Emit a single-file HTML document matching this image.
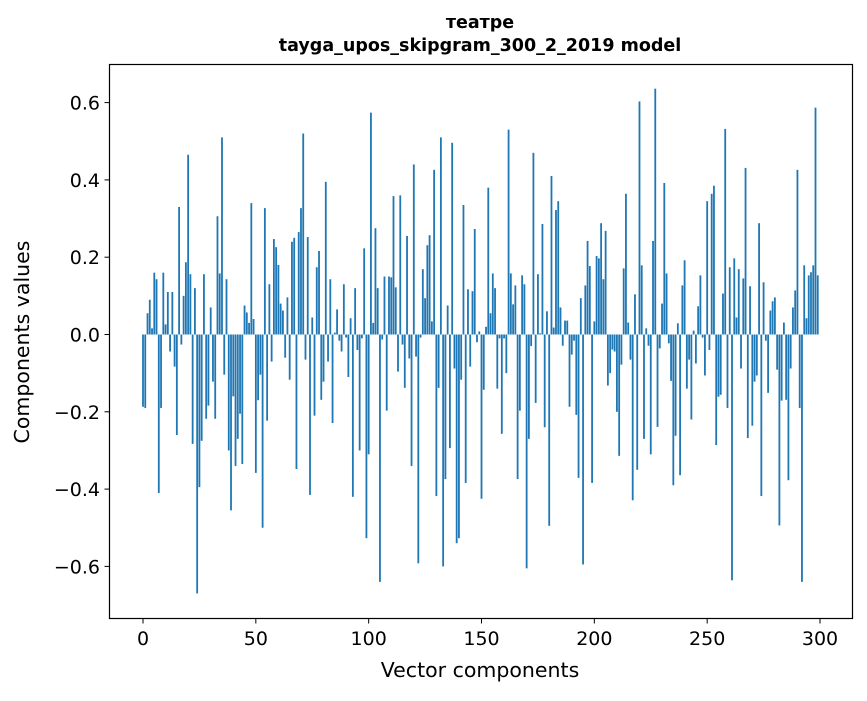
<!DOCTYPE html>
<html><head><meta charset="utf-8"><style>
body{margin:0;background:#fff;}
svg text{font-family:"DejaVu Sans","Liberation Sans",sans-serif;fill:#000;}
</style></head><body>
<svg id="chart" width="867" height="696" xmlns="http://www.w3.org/2000/svg">
<rect x="0" y="0" width="867" height="696" fill="#fff"/>
<text x="480" y="28" font-size="17.5" font-weight="bold" text-anchor="middle">театре</text>
<text x="480" y="51" font-size="17.5" font-weight="bold" text-anchor="middle">tayga_upos_skipgram_300_2_2019 model</text>
<g id="bars"></g>
<g id="axes"></g>
<rect x="109.5" y="64.5" width="743" height="554" fill="none" stroke="#000" stroke-width="1.2"/>
<text x="480" y="677" font-size="20.5" text-anchor="middle">Vector components</text>
<text transform="translate(29,342) rotate(-90)" font-size="20.5" text-anchor="middle">Components values</text>
</svg>
<script>
const values = [
-0.187,-0.19,0.055,0.09,0.016,0.16,0.143,-0.41,-0.19,0.16,
0.026,0.11,-0.044,0.11,-0.083,-0.26,0.33,-0.026,0.1,0.187,
0.465,0.156,-0.283,0.12,-0.67,-0.395,-0.275,0.156,-0.218,-0.184,
0.07,-0.122,-0.218,0.306,0.158,0.51,-0.104,0.143,-0.3,-0.455,
-0.16,-0.34,-0.27,-0.205,-0.335,0.075,0.057,0.03,0.34,0.04,
-0.358,-0.17,-0.104,-0.5,0.327,-0.223,0.13,-0.07,0.247,0.226,
0.18,0.08,0.062,-0.06,0.096,-0.117,0.24,0.25,-0.348,0.265,
0.327,0.52,-0.065,0.252,-0.415,0.044,-0.21,0.174,0.216,-0.169,
-0.122,0.395,-0.07,0.143,-0.229,0.005,0.065,-0.016,-0.044,0.13,
-0.008,-0.11,0.042,-0.42,0.12,-0.04,-0.3,-0.01,0.223,-0.527,
-0.31,0.574,0.03,0.275,0.12,-0.64,-0.013,0.15,-0.197,0.15,
0.148,0.358,0.122,-0.096,0.36,-0.026,-0.138,0.255,-0.062,-0.34,
0.44,-0.057,-0.592,-0.008,0.169,0.094,0.231,0.257,0.034,0.426,
-0.418,-0.138,0.51,-0.6,-0.374,0.075,-0.294,0.496,-0.088,-0.54,
-0.527,-0.117,0.335,-0.384,0.117,-0.083,0.112,0.273,-0.02,0.008,
-0.425,-0.143,0.02,0.38,0.055,0.158,0.12,-0.14,-0.01,-0.257,
-0.01,-0.1,0.53,0.158,0.078,0.127,-0.374,-0.197,0.153,0.13,
-0.605,-0.27,-0.03,0.47,-0.177,0.156,0.003,0.286,-0.24,0.06,
-0.495,0.41,0.018,0.322,0.345,0.07,-0.029,0.036,0.036,-0.187,
-0.052,-0.016,-0.208,-0.371,0.094,-0.595,0.127,0.242,0.177,-0.384,
0.034,0.203,0.197,0.288,0.143,0.268,-0.132,-0.1,-0.039,-0.044,
-0.2,-0.314,-0.078,0.171,0.364,0.031,-0.065,-0.429,0.104,-0.35,
0.603,0.179,-0.27,0.016,-0.029,-0.31,0.242,0.636,-0.239,-0.036,
0.08,0.392,0.158,-0.023,-0.12,-0.39,-0.262,0.029,-0.364,0.127,
0.192,-0.14,-0.065,-0.22,0.01,-0.075,0.073,0.153,-0.008,-0.106,
0.345,-0.04,0.364,0.385,-0.286,-0.161,-0.156,0.106,0.532,-0.19,
0.174,-0.636,0.197,0.044,0.169,-0.088,0.145,0.431,-0.268,0.125,
-0.236,-0.122,-0.106,0.288,-0.418,0.135,-0.016,-0.151,0.062,0.086,
0.096,-0.091,-0.494,-0.171,0.031,-0.169,-0.377,-0.088,0.07,0.114,
0.426,-0.19,-0.64,0.179,0.042,0.153,0.161,0.179,0.587,0.153
];
const xTicks = [0,50,100,150,200,250,300];
const yTicks = [-0.6,-0.4,-0.2,0.0,0.2,0.4,0.6];

const NS="http://www.w3.org/2000/svg";
function xScale(i){return 143+2.2567*i;}
function yScale(v){return 334.5-v*386.5;}
const bars=document.getElementById('bars');
values.forEach((v,i)=>{
  const r=document.createElementNS(NS,'rect');
  const w=0.8*2.2567;
  const y0=yScale(0), y1=yScale(v);
  r.setAttribute('x',xScale(i)-w/2);
  r.setAttribute('y',Math.min(y0,y1));
  r.setAttribute('width',w);
  r.setAttribute('height',Math.abs(y1-y0));
  r.setAttribute('fill','#1f77b4');
  
  
  bars.appendChild(r);
});
const axes=document.getElementById('axes');
xTicks.forEach(t=>{
  const x=xScale(t);
  const l=document.createElementNS(NS,'line');
  l.setAttribute('x1',x);l.setAttribute('x2',x);l.setAttribute('y1',618.5);l.setAttribute('y2',623.5);
  l.setAttribute('stroke','#000');
  
  
  axes.appendChild(l);
  const tx=document.createElementNS(NS,'text');
  tx.setAttribute('x',x);tx.setAttribute('y',645);tx.setAttribute('font-size','19');tx.setAttribute('text-anchor','middle');
  tx.textContent=String(t);
  
  
  axes.appendChild(tx);
});
yTicks.forEach(t=>{
  const y=yScale(t);
  const l=document.createElementNS(NS,'line');
  l.setAttribute('x1',104.5);l.setAttribute('x2',109.5);l.setAttribute('y1',y);l.setAttribute('y2',y);
  l.setAttribute('stroke','#000');
  
  
  axes.appendChild(l);
  const tx=document.createElementNS(NS,'text');
  tx.setAttribute('x',100);tx.setAttribute('y',y+7);tx.setAttribute('font-size','19');tx.setAttribute('text-anchor','end');
  tx.textContent=(t<0?'\u2212':'')+Math.abs(t).toFixed(1);
  
  
  axes.appendChild(tx);
});
</script>
</body></html>
